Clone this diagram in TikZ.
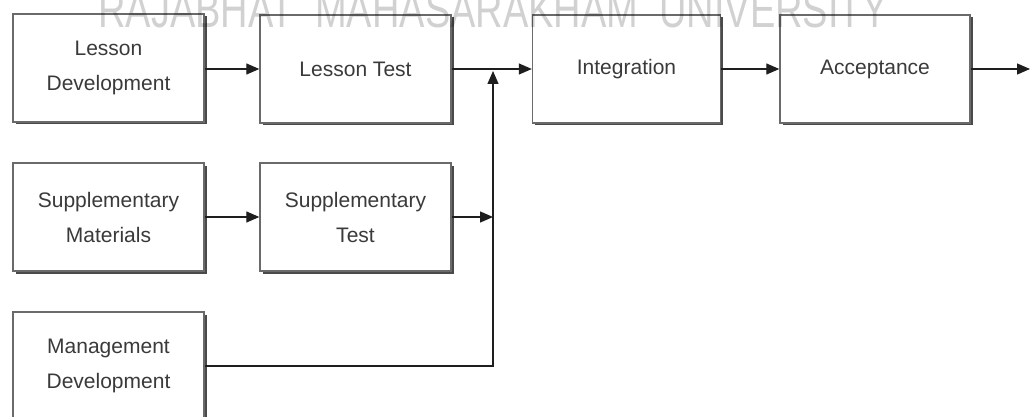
\documentclass[tikz,border=0pt]{standalone}
\usepackage{fontspec}
\setmainfont{Liberation Sans}
\usetikzlibrary{arrows.meta,shadows}
\definecolor{txt}{HTML}{3A3A3A}
\definecolor{edge}{HTML}{6A6A6A}
\definecolor{shade}{HTML}{4A4A4A}
\definecolor{wline}{HTML}{1E1E1E}
\tikzset{
  stagebox/.style={draw=edge, line width=1.4pt, fill=white, inner sep=0pt,
    minimum width=191pt, minimum height=108pt, align=center, text=txt,
    font=\fontsize{21}{35}\selectfont,
    drop shadow={shadow xshift=2.5pt, shadow yshift=-2.5pt, fill=shade, opacity=1}},
  flow/.style={draw=wline, line width=1.3pt, -{Triangle[length=13pt,width=11pt]}},
  plain/.style={draw=wline, line width=1.3pt}
}
\begin{document}
\begin{tikzpicture}[x=1pt,y=-1pt]
\useasboundingbox (0,0) rectangle (1030,417);
\clip (0,0) rectangle (1030,417);
\fill[white] (0,0) rectangle (1030,417);
\node[stagebox] (LD) at (108.5,68) {Lesson\\Development};
\node[stagebox] (LT) at (355.5,69) {Lesson Test};
\node[stagebox] (SM) at (108.5,217) {Supplementary\\Materials};
\node[stagebox] (ST) at (355.5,217) {Supplementary\\Test};
\node[stagebox] (MD) at (108.5,366) {Management\\Development};
\node[stagebox, minimum width=188pt] (IN) at (626.5,69) {Integration};
\node[stagebox, minimum width=190pt] (AC) at (875,69) {Acceptance};
\coordinate (J) at (493,69);
\coordinate (Jup) at (493,71);
\coordinate (OUT) at (1030,69);
\draw[flow] (LD.east |- LT.west) -- (LT.west);
\draw[flow] (LT.east) -- (IN.west);
\draw[flow] (SM.east) -- (ST.west);
\draw[flow] (ST.east) -- (ST.east -| J);
\draw[flow] (MD.east) -| (Jup);
\draw[flow] (IN.east) -- (AC.west);
\draw[flow] (AC.east) -- (OUT);
\node[anchor=base, text=black, opacity=0.18, inner sep=0pt,
      font=\fontsize{38}{40}\selectfont] (WM) at (493,28) {\scalebox{1}[1.35]{RAJABHAT\ \ MAHASARAKHAM\ \ UNIVERSITY}};
\end{tikzpicture}
\end{document}
